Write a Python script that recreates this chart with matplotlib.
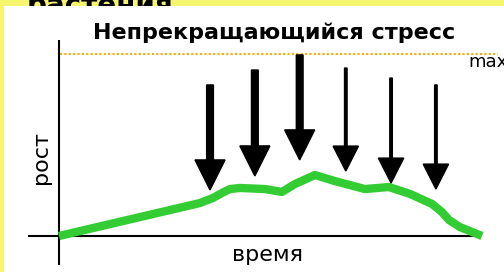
import matplotlib
matplotlib.use("Agg")
import matplotlib.pyplot as plt
from matplotlib.patches import Rectangle

plt.rcParams['font.family'] = ['DejaVu Sans']

# growth curve (time 0..100, growth where 100 = max)
time = [0, 33.3, 36.4, 38.5, 40.4, 42.8, 48.7, 52.7, 55.8, 60.5, 65.2, 72.3,
        78.0, 83.0, 88.2, 90.5, 92.2, 94.8, 100]
growth = [0, 18.1, 20.9, 23.6, 25.8, 26.4, 25.8, 24.2, 28.6, 33.5, 30.2, 25.8,
          26.9, 23.1, 17.6, 13.2, 8.8, 4.9, 0]

# stress arrows
arrow_time = [35.7, 46.3, 56.9, 67.8, 78.5, 89.1]
arrow_top = [83.0, 91.2, 99.5, 92.3, 86.8, 83.0]
arrow_tip = [25.3, 33.0, 41.8, 35.7, 29.1, 25.8]
arrow_heavy = [True, True, True, False, False, False]

max_level = 100
title = "Непрекращающийся стресс"
xlabel = "время"
ylabel = "рост"
max_label = "max"
header = "растения"

fig = plt.figure(figsize=(5.04, 2.72), dpi=100)
fig.patch.set_facecolor('#F5F56E')

# header text partially hidden behind white panel
fig.text(27 / 504, 1 - 14 / 272, header, fontsize=20, fontweight='bold',
         ha='left', va='baseline', color='black', zorder=0)
fig.patches.append(Rectangle((4 / 504, 0), 1, 1 - 6 / 272, transform=fig.transFigure,
                             facecolor='white', edgecolor='none', zorder=1))

ax = fig.add_axes([0, 0, 1, 1])
ax.set_zorder(2)
ax.patch.set_alpha(0)
ax.set_xlim(-13.95, 105.2)
ax.set_ylim(-19.78, 129.67)
ax.axis('off')

# axes lines
ax.plot([0, 0], [-15.9, 107.7], color='black', lw=1.5, solid_capstyle='butt')
ax.plot([-7.3, 98.3], [0, 0], color='black', lw=1.5, solid_capstyle='butt')

# max level
ax.plot([0.2, 103.8], [max_level, max_level], color='#FFA800', lw=1.5,
        linestyle=(0, (1, 1.1)))
ax.text(96.7, 95.6, max_label, fontsize=13, ha='left', va='center', color='black')

# growth curve
ax.plot(time, growth, color='#33CC33', lw=6, solid_joinstyle='round',
        solid_capstyle='butt', zorder=3)

# arrows
for t, top, tip, heavy in zip(arrow_time, arrow_top, arrow_tip, arrow_heavy):
    w = 1.6 if heavy else 0.6
    hw = 7.1 if heavy else 6.0
    hl = 16.5 if heavy else 13.7
    ax.arrow(t, top, 0, tip - top, width=w, head_width=hw, head_length=hl,
             length_includes_head=True, color='black', zorder=4)

ax.text(50.8, 111.5, title, fontsize=16, fontweight='bold', ha='center',
        va='center', color='black')
ax.text(49.2, -13.7, xlabel, fontsize=16, ha='center', va='baseline', color='black')
ax.text(-4.3, 42.9, ylabel, fontsize=16, ha='center', va='center', rotation=90,
        color='black')

fig.savefig('out.png', dpi=100)
